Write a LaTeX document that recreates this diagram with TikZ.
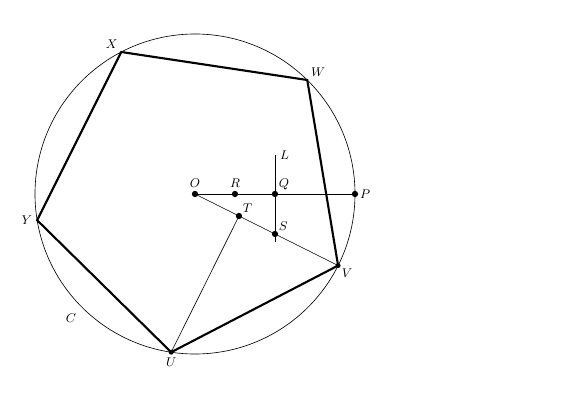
\documentclass[tikz,border=0pt]{standalone}
\usetikzlibrary{positioning}

\tikzstyle{pent} = [draw=black, line width=1.5pt, line join=miter]
\tikzstyle{thinline} = [draw=black, line width=0.45pt]
\tikzstyle{midline} = [draw=black, line width=0.65pt]
\tikzstyle{lbl} = [font=\small, inner sep=1.5pt]
\tikzstyle{dot} = [circle, fill=black, inner sep=0pt, minimum size=4.5pt]

\begin{document}
\begin{tikzpicture}
    \useasboundingbox (-4.875,-5.25) rectangle (9.575,4.85);
%------------ Punkte ---------------------
    \coordinate (O) at (0,0);
    \coordinate (R) at (1,0);
    \coordinate (Q) at (2,0);
    \coordinate (P) at (4,0);
    \coordinate (Ltop) at (2,0.975);
    \coordinate (Lbot) at (2,-1.2);
    \coordinate (S) at (2,-1);
    \coordinate (T) at (1.1,-0.55);
    \coordinate (V) at (-26.565:4);
    \coordinate (W) at (45.435:4);
    \coordinate (X) at (117.435:4);
    \coordinate (Y) at (189.435:4);
    \coordinate (U) at (261.435:4);
%------------ Kreis und Fuenfeck ---------------------
    \draw[thinline] (O) circle (4);
    \draw[pent] (V) -- (W) -- (X) -- (Y) -- (U) -- cycle;
%------------ Strecken ---------------------
    \draw[midline] (O) -- (P);
    \draw[midline] (Ltop) -- (Lbot);
    \draw[thinline] (O) -- (V);
    \draw[thinline] (T) -- (U);
%------------ Punkte markieren ---------------------
    \node[dot] (dO) at (O) {};
    \node[dot] (dR) at (R) {};
    \node[dot] (dQ) at (Q) {};
    \node[dot] (dP) at (P) {};
    \node[dot] (dS) at (S) {};
    \node[dot] (dT) at (T) {};
    \node[dot, minimum size=3.5pt] (dV) at (V) {};
    \node[dot, minimum size=3.5pt] (dU) at (U) {};
%------------ Beschriftung ---------------------
    \node[lbl, above=3pt] (lO) at (O) {$O$};
    \node[lbl, above=3pt] (lR) at (R) {$R$};
    \node[lbl, above right=1pt and 1pt] (lQ) at (Q) {$Q$};
    \node[lbl, right=2pt] (lP) at (P) {$P$};
    \node[lbl, right=2pt] (lL) at (Ltop) {$L$};
    \node[lbl, above right=1pt and 1pt] (lS) at (S) {$S$};
    \node[lbl, above right=1pt and 1pt] (lT) at (T) {$T$};
    \node[lbl, below right=1pt and 1pt] (lV) at (V) {$V$};
    \node[lbl, below=2.5pt] (lU) at (U) {$U$};
    \node[lbl, left=2pt] (lY) at (Y) {$Y$};
    \node[lbl, above left=1pt and 1pt] (lX) at (X) {$X$};
    \node[lbl, above right=1pt and 1pt] (lW) at (W) {$W$};
    \node[lbl] (lC) at (-3.1,-3.1) {$C$};
\end{tikzpicture}
\end{document}
